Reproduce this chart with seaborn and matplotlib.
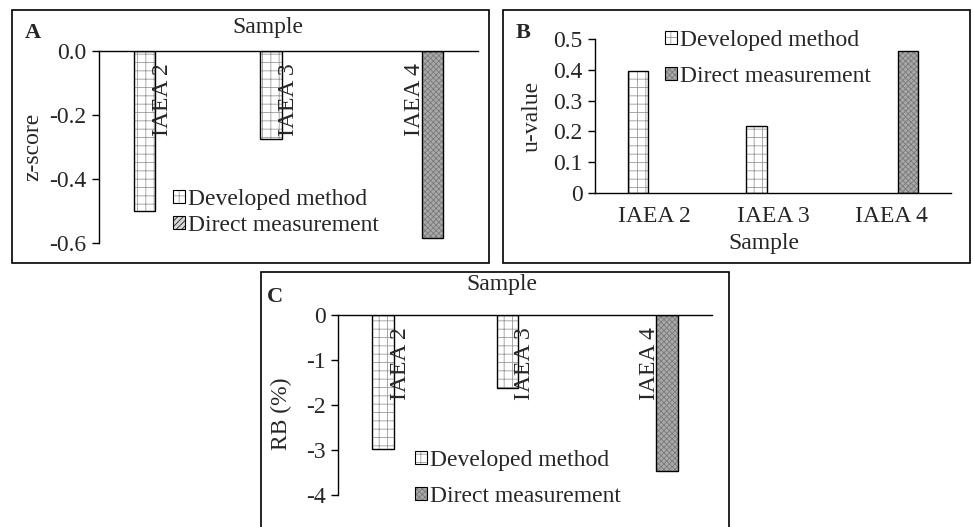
import numpy as np
import pandas as pd
import matplotlib
matplotlib.use("Agg")
import matplotlib.pyplot as plt
import seaborn as sns
from matplotlib.patches import Rectangle, Patch
from matplotlib.legend_handler import HandlerTuple
from matplotlib.ticker import FuncFormatter, FixedLocator

samples = ["IAEA 2", "IAEA 3", "IAEA 4"]
methods = ["Developed method", "Direct measurement"]

z_dev = [-0.50, -0.275, np.nan]
z_direct = [np.nan, np.nan, -0.585]
u_dev = [0.397, 0.217, np.nan]
u_direct = [np.nan, np.nan, 0.462]
rb_dev = [-2.97, -1.62, np.nan]
rb_direct = [np.nan, np.nan, -3.46]

z_ticks = [0.0, -0.2, -0.4, -0.6]
u_ticks = [0, 0.1, 0.2, 0.3, 0.4, 0.5]
rb_ticks = [0, -1, -2, -3, -4]

sns.set_theme(style="white")
plt.rcParams["font.family"] = ["Liberation Serif", "DejaVu Serif"]
plt.rcParams["axes.unicode_minus"] = False
plt.rcParams["hatch.linewidth"] = 0.6
FS = 17

W, H = 973, 527
fig = plt.figure(figsize=(W / 100, H / 100), dpi=100)
fig.patch.set_facecolor("white")

def fx(px):
    return px / W

def fy(py):
    return 1 - py / H

# panel frames
for (x0, y0, x1, y1) in [(12, 10, 489, 263), (503, 10, 970, 263), (261, 272, 729, 532)]:
    fig.patches.append(Rectangle((fx(x0), fy(y1)), fx(x1) - fx(x0), fy(y0) - fy(y1),
                                 transform=fig.transFigure, fill=False,
                                 edgecolor="black", linewidth=1.2, zorder=0))

def make_ax(x0, y0, x1, y1):
    return fig.add_axes([fx(x0), fy(y1), fx(x1) - fx(x0), fy(y0) - fy(y1)])

DEV_STYLE = dict(face="white", hatch="++", hcol="#9a9a9a")
DIR_STYLE = dict(face="#a9a9a9", hatch="xxxxxx", hcol="#7a7a7a")

def draw_bars(ax, dev, direct):
    df = pd.DataFrame({
        "Sample": samples * 2,
        "Method": [methods[0]] * 3 + [methods[1]] * 3,
        "value": list(dev) + list(direct),
    })
    df = df.dropna()
    sns.barplot(data=df, x="Sample", y="value", hue="Method", order=samples,
                hue_order=methods, width=0.56, gap=0.39, dodge=True,
                errorbar=None, legend=False, ax=ax,
                palette=["white", "#a9a9a9"])
    styles = [DEV_STYLE, DIR_STYLE]
    for cont, st in zip(ax.containers, styles):
        for bar in cont:
            if not np.isfinite(bar.get_height()) or bar.get_height() == 0:
                continue
            bar.set_facecolor(st["face"])
            bar.set_hatch(st["hatch"])
            bar.set_edgecolor(st["hcol"])
            bar.set_linewidth(0)
            ax.add_patch(Rectangle(bar.get_xy(), bar.get_width(), bar.get_height(),
                                   fill=False, edgecolor="black", linewidth=1.0, zorder=3))
    ax.set_xlim(-0.5, 2.5)

def legend_handles(dir_style):
    h1 = (Patch(facecolor=DEV_STYLE["face"], hatch=DEV_STYLE["hatch"], edgecolor=DEV_STYLE["hcol"], linewidth=0),
          Patch(fill=False, edgecolor="black", linewidth=0.8))
    h2 = (Patch(facecolor=dir_style["face"], hatch=dir_style["hatch"], edgecolor=dir_style["hcol"], linewidth=0),
          Patch(fill=False, edgecolor="black", linewidth=0.8))
    return [h1, h2]

def add_legend(ax, x, y, dir_style, spacing):
    ax.legend(legend_handles(dir_style), methods, loc="upper left",
              bbox_to_anchor=(fx(x), fy(y)), bbox_transform=fig.transFigure,
              frameon=False, fontsize=FS, handlelength=0.5, handleheight=0.5,
              handletextpad=0.15, borderpad=0, borderaxespad=0, labelspacing=spacing,
              handler_map={tuple: HandlerTuple(ndivide=1)})

def style_negative(ax, ticks, fmt, ylabel, ylabel_xy, sample_xy):
    ax.set_ylim(min(ticks), 0)
    ax.yaxis.set_major_locator(FixedLocator(ticks))
    ax.yaxis.set_major_formatter(FuncFormatter(fmt))
    for s in ["bottom", "right"]:
        ax.spines[s].set_visible(False)
    for s in ["left", "top"]:
        ax.spines[s].set_visible(True)
        ax.spines[s].set_color("black")
        ax.spines[s].set_linewidth(1.0)
    ax.tick_params(axis="y", left=True, direction="out", length=5, width=1,
                   color="black", labelsize=FS, pad=4)
    ax.tick_params(axis="x", bottom=False, top=False, labelbottom=False, labeltop=False)
    for i, s in enumerate(samples):
        ax.annotate(s, (i, 0), xytext=(0, -9), textcoords="offset points",
                    rotation=90, ha="center", va="top", fontsize=FS)
    ax.set_ylabel(ylabel, fontsize=FS)
    ax.yaxis.set_label_coords(*ylabel_xy)
    ax.xaxis.set_label_position("top")
    ax.set_xlabel("Sample", fontsize=FS)
    ax.xaxis.set_label_coords(*sample_xy)
    ax.xaxis.label.set_va("center")
    ax.yaxis.label.set_va("center")
    ax.set_facecolor("none")

# ---- Panel A
axA = make_ax(99, 51, 478, 243)
draw_bars(axA, z_dev, z_direct)
style_negative(axA, z_ticks, lambda v, p: f"{v:.1f}", "z-score",
               (-0.174, 0.5), (0.446, 1.12))
DIR_A = dict(face="#d8d8d8", hatch="//////", hcol="#222222")
add_legend(axA, 173, 189, DIR_A, 0.2)

# ---- Panel B
axB = make_ax(595, 39, 951, 193)
draw_bars(axB, u_dev, u_direct)
axB.set_ylim(0, 0.5)
axB.yaxis.set_major_locator(FixedLocator(u_ticks))
axB.yaxis.set_major_formatter(FuncFormatter(lambda v, p: f"{v:g}"))
for s in ["top", "right"]:
    axB.spines[s].set_visible(False)
for s in ["left", "bottom"]:
    axB.spines[s].set_visible(True)
    axB.spines[s].set_color("black")
    axB.spines[s].set_linewidth(1.0)
axB.tick_params(axis="y", left=True, direction="out", length=5, width=1,
                color="black", labelsize=FS, pad=4)
axB.tick_params(axis="x", bottom=False, labelsize=FS, pad=3)
axB.set_ylabel("u-value", fontsize=FS)
axB.yaxis.set_label_coords(-0.177, 0.5)
axB.yaxis.label.set_va("center")
axB.set_xlabel("Sample", fontsize=FS)
axB.xaxis.set_label_coords(0.475, -0.33)
axB.xaxis.label.set_va("center")
axB.set_facecolor("none")
add_legend(axB, 665, 30, DIR_STYLE, 0.62)

# ---- Panel C
axC = make_ax(338, 315, 712, 495)
draw_bars(axC, rb_dev, rb_direct)
style_negative(axC, rb_ticks, lambda v, p: f"{v:g}", "RB (%)",
               (-0.15, 0.45), (0.439, 1.167))
add_legend(axC, 415, 450, DIR_STYLE, 0.62)

# panel letters
for letter, (x, y) in {"A": (33, 33), "B": (523, 33), "C": (275, 297)}.items():
    fig.text(fx(x), fy(y), letter, ha="center", va="center", fontsize=FS - 1,
             fontweight="bold")

fig.savefig("out.png", dpi=100, facecolor="white")
